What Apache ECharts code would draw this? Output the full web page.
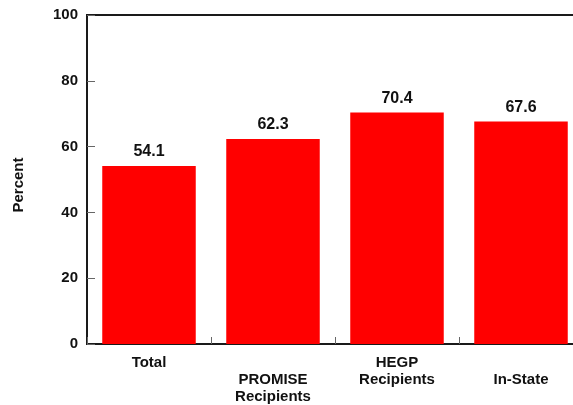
<!DOCTYPE html>
<html><head><meta charset="utf-8">
<script src="https://cdn.jsdelivr.net/npm/echarts@6/dist/echarts.min.js"></script>
<style>html,body{margin:0;padding:0;background:#fff}#c{width:573px;height:405px}</style>
</head><body><div id="c"></div>
<script>
const categories = ['Total', 'PROMISE\nRecipients', 'HEGP\nRecipients', 'In-State'];
const values = [54.1, 62.3, 70.4, 67.6];
const yTicks = [0, 20, 40, 60, 80, 100];

const FONT = '"Liberation Sans", Arial, sans-serif';
const chart = echarts.init(document.getElementById('c'), null, {renderer: 'canvas'});
chart.setOption({
  animation: false,
  grid: {left: 87, top: 15, width: 496, height: 329, show: true, borderColor: '#1a1a1a', borderWidth: 2,
    containLabel: false, outerBoundsMode: 'none'},
  xAxis: {
    type: 'category', data: categories,
    axisLine: {lineStyle: {color: '#1a1a1a', width: 2}},
    axisTick: {show: true, inside: true, length: 7, lineStyle: {color: '#666', width: 1}},
    axisLabel: {
      interval: 0, margin: 10, color: '#111', fontFamily: FONT, fontWeight: 'bold', fontSize: 15, lineHeight: 17,
      verticalAlign: 'top',
      formatter: (v, i) => (i % 2 === 1 ? '\n' : '') + v
    }
  },
  yAxis: {
    type: 'value', min: yTicks[0], max: yTicks[yTicks.length - 1], interval: 20,
    name: 'Percent', nameLocation: 'middle', nameRotate: 90, nameGap: 61,
    nameTextStyle: {color: '#111', fontFamily: FONT, fontWeight: 'bold', fontSize: 15, padding: [0, 11, 0, 0]},
    axisLine: {show: true, lineStyle: {color: '#1a1a1a', width: 2}},
    axisTick: {show: true, inside: true, length: 8, lineStyle: {color: '#666', width: 1}},
    splitLine: {show: false},
    axisLabel: {margin: 9, color: '#111', fontFamily: FONT, fontWeight: 'bold', fontSize: 15}
  },
  series: [{
    type: 'bar', data: values, barWidth: 93.5,
    itemStyle: {color: '#ff0000'},
    label: {show: true, position: 'top', distance: 6, color: '#111', fontFamily: FONT, fontWeight: 'bold', fontSize: 16,
      formatter: p => p.value.toFixed(1)}
  }]
});
</script></body></html>
